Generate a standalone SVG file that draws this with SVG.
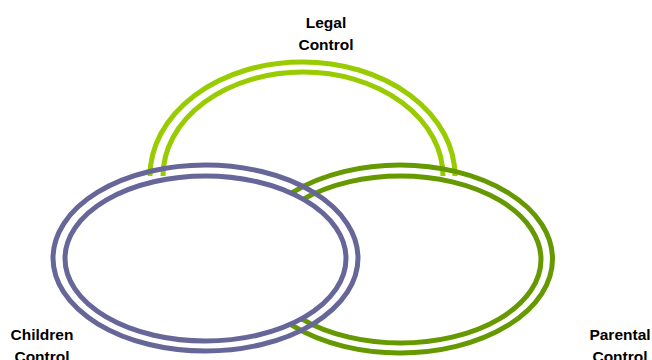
<svg xmlns="http://www.w3.org/2000/svg" width="652" height="360" viewBox="0 0 652 360">
<style>
.lbl{font-family:"Liberation Sans",Arial,sans-serif;font-weight:bold;font-size:15.5px;fill:#000;text-anchor:middle}
.legal{fill:none;stroke:#99CC00;stroke-width:5}
.par{fill:none;stroke:#669900;stroke-width:5}
.chi{fill:none;stroke:#666699;stroke-width:5}
</style>
<rect width="652" height="360" fill="#fff"/>
<g id="legal-control">
<path class="legal" d="M150,176 A152.5,114 0 0 1 455,176"/>
<path class="legal" d="M163,176 A140,104 0 0 1 443,176"/>
<text class="lbl" x="326" y="28">Legal</text>
<text class="lbl" x="326" y="50">Control</text>
</g>
<g id="parental-control">
<ellipse class="par" cx="400" cy="259" rx="152.5" ry="94"/>
<ellipse class="par" cx="400.5" cy="259.5" rx="140.5" ry="83.5"/>
<text class="lbl" x="620" y="340">Parental</text>
<text class="lbl" x="620" y="362">Control</text>
</g>
<g id="children-control">
<ellipse class="chi" cx="205.5" cy="258.5" rx="140.5" ry="82.5" style="fill:#fff"/>
<ellipse class="chi" cx="205.5" cy="258" rx="152.5" ry="93"/>
<text class="lbl" x="42" y="340">Children</text>
<text class="lbl" x="42" y="362">Control</text>
</g>
<g id="connectors"></g>
</svg>
